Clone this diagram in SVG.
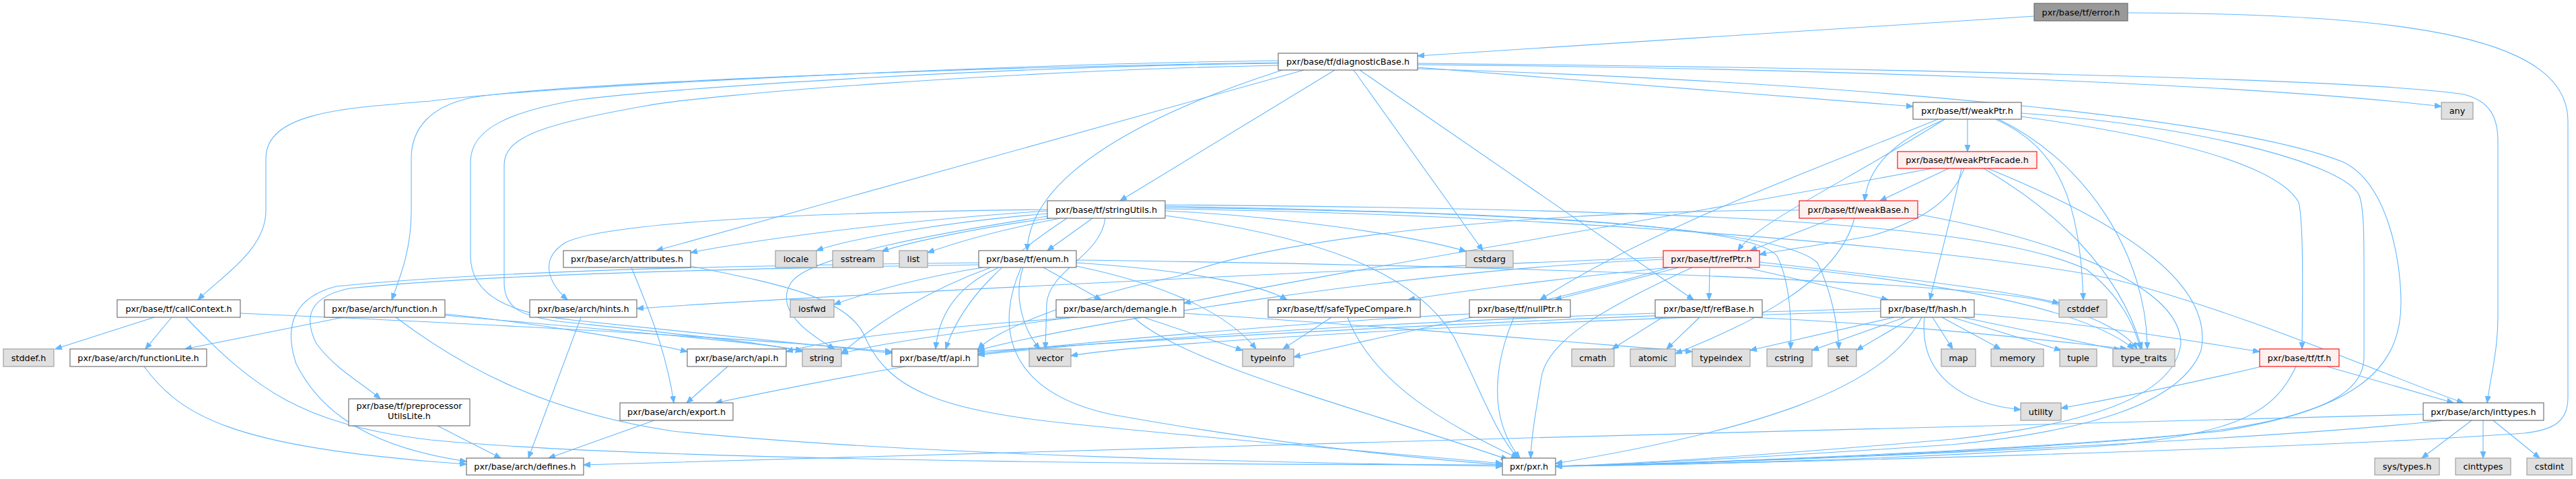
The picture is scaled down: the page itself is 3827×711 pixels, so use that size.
<svg xmlns="http://www.w3.org/2000/svg" width="3827" height="711" viewBox="0 0 3827 711">
<style>
.e path{fill:none;stroke:#63b8ff;stroke-width:1.1}
.n rect{fill:#ffffff;stroke:#666666;stroke-width:1.1}
.g rect{fill:#e0e0e0;stroke:#999999;stroke-width:1.1}
.r rect{fill:#fff0f0;stroke:#ff0000;stroke-width:1.1}
.x rect{fill:#999999;stroke:#666666;stroke-width:1.1}
text{font-family:"DejaVu Sans","Liberation Sans",sans-serif;font-size:12.8px;fill:#000000;text-anchor:middle}
</style>
<defs>
<marker id="a" markerWidth="11" markerHeight="9" refX="10" refY="4" orient="auto" markerUnits="userSpaceOnUse">
<path d="M0,0 L10,4 L0,8 z" fill="#63b8ff" stroke="#63b8ff" stroke-width="1"/>
</marker>
</defs>
<rect width="3827" height="711" fill="#ffffff"/>
<g id="connectors" class="e" marker-end="url(#a)">
<path marker-end="url(#a)" d="M3022,24 L2106,83"/>
<path marker-end="url(#a)" d="M3161,19 C3600,20 3815,60 3815,180 L3815,590 C3815,625 3795,638 3750,643 C3400,668 2600,688 2311,692"/>
<path marker-end="url(#a)" d="M1899,90 C1500,95 800,128 640,150 C520,160 395,165 395,235 L395,313 C395,370 330,410 294,445"/>
<path marker-end="url(#a)" d="M1899,93 C1400,100 820,125 700,145 C640,158 611,190 611,235 L611,313 C611,370 595,410 582,445"/>
<path marker-end="url(#a)" d="M1937,104 L975,372"/>
<path marker-end="url(#a)" d="M1905,104 C1700,170 1530,260 1526,372"/>
<path marker-end="url(#a)" d="M1983,104 L1664,298"/>
<path marker-end="url(#a)" d="M2011,104 L2203,372"/>
<path marker-end="url(#a)" d="M2020,104 L2516,445"/>
<path marker-end="url(#a)" d="M2106,100 L2842,158"/>
<path marker-end="url(#a)" d="M2106,96 C2600,100 3300,120 3627,158"/>
<path marker-end="url(#a)" d="M2106,94 C2700,100 3500,115 3660,140 C3700,150 3711,175 3711,210 L3711,470 C3711,520 3700,560 3695,598"/>
<path marker-end="url(#a)" d="M2106,102 C2700,120 3300,170 3480,240 C3545,270 3567,380 3567,450 C3567,560 3480,610 3300,640 C3000,670 2500,688 2311,692"/>
<path marker-end="url(#a)" d="M1899,97 C1500,105 1050,140 960,157 C800,185 749,205 749,245 L749,420 C749,460 780,470 830,477 C1000,495 1150,510 1192,522"/>
<path marker-end="url(#a)" d="M1899,94 C1500,98 1000,130 860,148 C760,165 699,190 699,240 L699,380 C699,440 760,465 850,475 C1050,495 1200,512 1325,524"/>
<path marker-end="url(#a)" d="M229,471 L82,518"/>
<path marker-end="url(#a)" d="M255,471 L216,518"/>
<path marker-end="url(#a)" d="M276,471 C380,580 450,630 640,653 C1000,688 2000,690 2232,690"/>
<path marker-end="url(#a)" d="M357,465 C700,480 1100,500 1325,522"/>
<path marker-end="url(#a)" d="M510,471 L275,518"/>
<path marker-end="url(#a)" d="M588,471 C680,540 800,610 1000,640 C1400,680 2000,688 2232,692"/>
<path marker-end="url(#a)" d="M661,466 C800,480 950,505 1021,522"/>
<path marker-end="url(#a)" d="M661,468 C850,485 1100,505 1192,520"/>
<path marker-end="url(#a)" d="M214,544 C270,620 350,660 640,685 L693,689"/>
<path marker-end="url(#a)" d="M650,632 L744,680"/>
<path marker-end="url(#a)" d="M938,397 C960,450 990,520 1001,598"/>
<path marker-end="url(#a)" d="M1026,395 C1150,420 1260,440 1285,500 C1320,580 1400,610 1600,630 C1900,660 2150,680 2232,688"/>
<path marker-end="url(#a)" d="M863,471 L785,680"/>
<path marker-end="url(#a)" d="M1081,544 L1020,598"/>
<path marker-end="url(#a)" d="M972,624 L815,680"/>
<path marker-end="url(#a)" d="M1345,544 C1250,560 1150,580 1063,598"/>
<path marker-end="url(#a)" d="M1556,313 C1300,330 1100,360 1026,375"/>
<path marker-end="url(#a)" d="M1556,317 C1400,330 1260,355 1213,372"/>
<path marker-end="url(#a)" d="M1560,324 C1450,338 1350,360 1310,373"/>
<path marker-end="url(#a)" d="M1575,324 C1480,342 1420,360 1378,375"/>
<path marker-end="url(#a)" d="M1623,324 L1556,372"/>
<path marker-end="url(#a)" d="M1642,324 C1635,380 1560,400 1555,450 L1553,518"/>
<path marker-end="url(#a)" d="M1556,311 C1200,315 900,330 840,360 C800,385 815,420 843,445"/>
<path marker-end="url(#a)" d="M1556,321 C1400,345 1200,380 1175,420 C1150,460 1200,495 1240,518"/>
<path marker-end="url(#a)" d="M1585,324 C1500,380 1430,440 1405,518"/>
<path marker-end="url(#a)" d="M1731,313 C1900,320 2100,350 2178,373"/>
<path marker-end="url(#a)" d="M1731,320 C1950,350 2100,400 2160,500 C2200,580 2220,640 2255,680"/>
<path marker-end="url(#a)" d="M1731,310 C2400,320 3000,380 3150,417 C3350,470 3550,560 3660,598"/>
<path marker-end="url(#a)" d="M1731,306 C2200,315 2600,330 2640,380 C2660,420 2662,480 2660,518"/>
<path marker-end="url(#a)" d="M1731,308 C2300,315 2650,340 2700,390 C2720,430 2730,480 2732,518"/>
<path marker-end="url(#a)" d="M1731,304 C2500,310 2950,330 3100,400 C3150,440 3170,480 3180,518"/>
<path marker-end="url(#a)" d="M1454,393 C1000,400 700,410 520,428 C460,440 450,470 470,510 C500,550 540,570 565,592"/>
<path marker-end="url(#a)" d="M1454,390 C1000,395 700,405 500,425 C440,440 420,480 440,540 C480,620 560,665 693,685"/>
<path marker-end="url(#a)" d="M1460,397 C1380,410 1300,430 1239,452"/>
<path marker-end="url(#a)" d="M1484,397 C1430,420 1395,460 1390,518"/>
<path marker-end="url(#a)" d="M1472,397 C1380,430 1300,480 1250,525"/>
<path marker-end="url(#a)" d="M1520,397 C1505,440 1520,490 1545,518"/>
<path marker-end="url(#a)" d="M1517,397 C1480,480 1490,580 1650,615 C1900,660 2100,680 2232,690"/>
<path marker-end="url(#a)" d="M1550,397 L1636,445"/>
<path marker-end="url(#a)" d="M1599,390 C1750,400 1870,420 1912,445"/>
<path marker-end="url(#a)" d="M1599,395 C1720,420 1820,460 1866,518"/>
<path marker-end="url(#a)" d="M1599,386 C2300,395 2950,420 3050,450 C3120,475 3160,495 3175,518"/>
<path marker-end="url(#a)" d="M1593,471 C1450,490 1300,510 1250,525"/>
<path marker-end="url(#a)" d="M1600,471 C1400,485 1250,500 1168,522"/>
<path marker-end="url(#a)" d="M1699,471 L1846,520"/>
<path marker-end="url(#a)" d="M1684,471 C1760,540 2000,600 2240,682"/>
<path marker-end="url(#a)" d="M1759,465 C2000,480 2300,505 2514,522"/>
<path marker-end="url(#a)" d="M1978,471 L1906,518"/>
<path marker-end="url(#a)" d="M2002,471 C2040,570 2150,630 2255,680"/>
<path marker-end="url(#a)" d="M2183,466 C1900,480 1600,510 1453,525"/>
<path marker-end="url(#a)" d="M2249,471 C2220,540 2210,620 2258,680"/>
<path marker-end="url(#a)" d="M2471,382 C2000,400 1200,440 946,458"/>
<path marker-end="url(#a)" d="M2480,397 C2300,415 2150,435 2092,445"/>
<path marker-end="url(#a)" d="M2494,397 L2310,445"/>
<path marker-end="url(#a)" d="M2540,397 L2539,445"/>
<path marker-end="url(#a)" d="M2593,397 L2805,445"/>
<path marker-end="url(#a)" d="M2614,389 C2800,410 2980,430 3059,450"/>
<path marker-end="url(#a)" d="M2614,393 C2900,420 3100,460 3170,518"/>
<path marker-end="url(#a)" d="M2480,397 C2300,450 2050,500 1922,530"/>
<path marker-end="url(#a)" d="M2471,385 C2100,400 1600,480 1453,520"/>
<path marker-end="url(#a)" d="M2514,397 C2400,450 2300,500 2290,560 C2280,620 2275,650 2274,680"/>
<path marker-end="url(#a)" d="M2459,465 C2000,480 1600,510 1453,527"/>
<path marker-end="url(#a)" d="M2470,471 L2395,518"/>
<path marker-end="url(#a)" d="M2525,471 L2476,518"/>
<path marker-end="url(#a)" d="M2600,471 C2800,480 3000,500 3160,518"/>
<path marker-end="url(#a)" d="M2794,458 C2300,470 1700,505 1453,522"/>
<path marker-end="url(#a)" d="M2814,471 L2600,520"/>
<path marker-end="url(#a)" d="M2830,471 L2692,520"/>
<path marker-end="url(#a)" d="M2842,471 L2758,520"/>
<path marker-end="url(#a)" d="M2855,471 C2800,580 2600,640 2311,688"/>
<path marker-end="url(#a)" d="M2859,471 C2850,560 2920,600 3002,608"/>
<path marker-end="url(#a)" d="M2871,471 L2901,518"/>
<path marker-end="url(#a)" d="M2885,471 L2972,518"/>
<path marker-end="url(#a)" d="M2900,471 L3062,520"/>
<path marker-end="url(#a)" d="M2916,471 L3150,520"/>
<path marker-end="url(#a)" d="M2933,466 C3100,480 3250,505 3357,522"/>
<path marker-end="url(#a)" d="M2794,462 C2200,478 1700,510 1591,528"/>
<path marker-end="url(#a)" d="M2879,177 C2700,250 2450,340 2288,445"/>
<path marker-end="url(#a)" d="M2889,177 C2760,260 2610,330 2582,372"/>
<path marker-end="url(#a)" d="M2890,177 C2810,210 2775,250 2770,298"/>
<path marker-end="url(#a)" d="M2923,177 L2923,225"/>
<path marker-end="url(#a)" d="M2965,177 C3060,220 3090,300 3095,445"/>
<path marker-end="url(#a)" d="M2969,177 C3100,240 3190,380 3190,518"/>
<path marker-end="url(#a)" d="M3003,173 C3200,200 3380,240 3415,300 C3422,330 3421,420 3420,518"/>
<path marker-end="url(#a)" d="M3003,168 C3250,185 3480,240 3505,290 C3512,310 3512,350 3512,400 L3512,530 C3512,600 3400,630 3200,650 C2900,675 2500,688 2311,692"/>
<path marker-end="url(#a)" d="M2870,250 C2500,320 2000,400 1759,450"/>
<path marker-end="url(#a)" d="M2895,250 L2793,298"/>
<path marker-end="url(#a)" d="M2918,250 C2900,300 2850,330 2780,350 C2700,365 2640,372 2614,378"/>
<path marker-end="url(#a)" d="M2914,250 C2900,320 2880,390 2867,445"/>
<path marker-end="url(#a)" d="M2947,250 C3050,310 3150,400 3182,518"/>
<path marker-end="url(#a)" d="M2953,250 C3150,330 3290,420 3270,520 C3240,600 3100,640 2900,660 C2600,680 2400,690 2311,692"/>
<path marker-end="url(#a)" d="M2724,324 L2600,372"/>
<path marker-end="url(#a)" d="M2755,324 C2730,420 2600,480 2489,525"/>
<path marker-end="url(#a)" d="M2849,318 C3080,360 3240,430 3240,510 C3230,590 3100,630 2900,652 C2600,678 2400,690 2311,692"/>
<path marker-end="url(#a)" d="M2673,312 C2300,312 1900,350 1750,410 C1600,440 1480,490 1453,518"/>
<path marker-end="url(#a)" d="M3360,544 C3250,570 3150,590 3062,606"/>
<path marker-end="url(#a)" d="M3411,544 C3380,610 3330,640 3150,660 C2800,685 2450,690 2311,692"/>
<path marker-end="url(#a)" d="M3457,544 L3645,598"/>
<path marker-end="url(#a)" d="M3600,615 C3000,630 1500,670 867,690"/>
<path marker-end="url(#a)" d="M3629,624 C3400,650 2700,685 2311,692"/>
<path marker-end="url(#a)" d="M3672,624 L3598,680"/>
<path marker-end="url(#a)" d="M3689,624 L3689,680"/>
<path marker-end="url(#a)" d="M3704,624 L3773,680"/>
</g>
<g id="error" class="x"><rect x="3022" y="5" width="139" height="26"/><text x="3091.5" y="22.5">pxr/base/tf/error.h</text></g>
<g id="diagnosticBase" class="n"><rect x="1899" y="79" width="207" height="25"/><text x="2002.5" y="96">pxr/base/tf/diagnosticBase.h</text></g>
<g id="weakPtr" class="n"><rect x="2842" y="152" width="161" height="25"/><text x="2922.5" y="169">pxr/base/tf/weakPtr.h</text></g>
<g id="any" class="g"><rect x="3627" y="152" width="47" height="25"/><text x="3650.5" y="169">any</text></g>
<g id="weakPtrFacade" class="r"><rect x="2819" y="225" width="207" height="25"/><text x="2922.5" y="242">pxr/base/tf/weakPtrFacade.h</text></g>
<g id="stringUtils" class="n"><rect x="1556" y="298" width="175" height="26"/><text x="1643.5" y="315.5">pxr/base/tf/stringUtils.h</text></g>
<g id="weakBase" class="r"><rect x="2673" y="298" width="176" height="26"/><text x="2761" y="315.5">pxr/base/tf/weakBase.h</text></g>
<g id="attributes" class="n"><rect x="837" y="372" width="189" height="25"/><text x="931.5" y="389">pxr/base/arch/attributes.h</text></g>
<g id="locale" class="g"><rect x="1152" y="372" width="61" height="25"/><text x="1182.5" y="389">locale</text></g>
<g id="sstream" class="g"><rect x="1237" y="372" width="75" height="25"/><text x="1274.5" y="389">sstream</text></g>
<g id="list" class="g"><rect x="1336" y="372" width="42" height="25"/><text x="1357" y="389">list</text></g>
<g id="enum" class="n"><rect x="1454" y="372" width="145" height="25"/><text x="1526.5" y="389">pxr/base/tf/enum.h</text></g>
<g id="cstdarg" class="g"><rect x="2178" y="372" width="70" height="25"/><text x="2213" y="389">cstdarg</text></g>
<g id="refPtr" class="r"><rect x="2471" y="372" width="143" height="25"/><text x="2542.5" y="389">pxr/base/tf/refPtr.h</text></g>
<g id="callContext" class="n"><rect x="174" y="445" width="183" height="26"/><text x="265.5" y="462.5">pxr/base/tf/callContext.h</text></g>
<g id="function" class="n"><rect x="482" y="445" width="179" height="26"/><text x="571.5" y="462.5">pxr/base/arch/function.h</text></g>
<g id="hints" class="n"><rect x="787" y="445" width="159" height="26"/><text x="866.5" y="462.5">pxr/base/arch/hints.h</text></g>
<g id="iosfwd" class="g"><rect x="1174" y="445" width="65" height="26"/><text x="1206.5" y="462.5">iosfwd</text></g>
<g id="demangle" class="n"><rect x="1569" y="445" width="190" height="26"/><text x="1664" y="462.5">pxr/base/arch/demangle.h</text></g>
<g id="safeTypeCompare" class="n"><rect x="1884" y="445" width="226" height="26"/><text x="1997" y="462.5">pxr/base/tf/safeTypeCompare.h</text></g>
<g id="nullPtr" class="n"><rect x="2183" y="445" width="150" height="26"/><text x="2258" y="462.5">pxr/base/tf/nullPtr.h</text></g>
<g id="refBase" class="n"><rect x="2459" y="445" width="159" height="26"/><text x="2538.5" y="462.5">pxr/base/tf/refBase.h</text></g>
<g id="hash" class="n"><rect x="2794" y="445" width="139" height="26"/><text x="2863.5" y="462.5">pxr/base/tf/hash.h</text></g>
<g id="cstddef" class="g"><rect x="3059" y="445" width="71" height="26"/><text x="3094.5" y="462.5">cstddef</text></g>
<g id="stddef" class="g"><rect x="5" y="518" width="75" height="26"/><text x="42.5" y="535.5">stddef.h</text></g>
<g id="functionLite" class="n"><rect x="104" y="518" width="203" height="26"/><text x="205.5" y="535.5">pxr/base/arch/functionLite.h</text></g>
<g id="archApi" class="n"><rect x="1021" y="518" width="147" height="26"/><text x="1094.5" y="535.5">pxr/base/arch/api.h</text></g>
<g id="string" class="g"><rect x="1192" y="518" width="58" height="26"/><text x="1221" y="535.5">string</text></g>
<g id="tfApi" class="n"><rect x="1325" y="518" width="128" height="26"/><text x="1389" y="535.5">pxr/base/tf/api.h</text></g>
<g id="vector" class="g"><rect x="1529" y="518" width="62" height="26"/><text x="1560" y="535.5">vector</text></g>
<g id="typeinfo" class="g"><rect x="1846" y="518" width="76" height="26"/><text x="1884" y="535.5">typeinfo</text></g>
<g id="cmath" class="g"><rect x="2335" y="518" width="63" height="26"/><text x="2366.5" y="535.5">cmath</text></g>
<g id="atomic" class="g"><rect x="2422" y="518" width="67" height="26"/><text x="2455.5" y="535.5">atomic</text></g>
<g id="typeindex" class="g"><rect x="2514" y="518" width="86" height="26"/><text x="2557" y="535.5">typeindex</text></g>
<g id="cstring" class="g"><rect x="2625" y="518" width="67" height="26"/><text x="2658.5" y="535.5">cstring</text></g>
<g id="set" class="g"><rect x="2716" y="518" width="42" height="26"/><text x="2737" y="535.5">set</text></g>
<g id="map" class="g"><rect x="2884" y="518" width="51" height="26"/><text x="2909.5" y="535.5">map</text></g>
<g id="memory" class="g"><rect x="2958" y="518" width="78" height="26"/><text x="2997" y="535.5">memory</text></g>
<g id="tuple" class="g"><rect x="3060" y="518" width="55" height="26"/><text x="3087.5" y="535.5">tuple</text></g>
<g id="type_traits" class="g"><rect x="3139" y="518" width="92" height="26"/><text x="3185" y="535.5">type_traits</text></g>
<g id="tf" class="r"><rect x="3357" y="518" width="118" height="26"/><text x="3416" y="535.5">pxr/base/tf/tf.h</text></g>
<g id="preprocessorUtilsLite" class="n"><rect x="518" y="592" width="180" height="40"/><text x="608" y="607">pxr/base/tf/preprocessor</text><text x="608" y="622">UtilsLite.h</text></g>
<g id="export" class="n"><rect x="921" y="598" width="168" height="26"/><text x="1005" y="615.5">pxr/base/arch/export.h</text></g>
<g id="utility" class="g"><rect x="3002" y="598" width="60" height="26"/><text x="3032" y="615.5">utility</text></g>
<g id="inttypes" class="n"><rect x="3600" y="598" width="179" height="26"/><text x="3689.5" y="615.5">pxr/base/arch/inttypes.h</text></g>
<g id="defines" class="n"><rect x="693" y="680" width="174" height="25"/><text x="780" y="697">pxr/base/arch/defines.h</text></g>
<g id="pxr" class="n"><rect x="2232" y="680" width="79" height="25"/><text x="2271.5" y="697">pxr/pxr.h</text></g>
<g id="systypes" class="g"><rect x="3528" y="680" width="96" height="25"/><text x="3576" y="697">sys/types.h</text></g>
<g id="cinttypes" class="g"><rect x="3648" y="680" width="82" height="25"/><text x="3689" y="697">cinttypes</text></g>
<g id="cstdint" class="g"><rect x="3754" y="680" width="67" height="25"/><text x="3787.5" y="697">cstdint</text></g>
</svg>
